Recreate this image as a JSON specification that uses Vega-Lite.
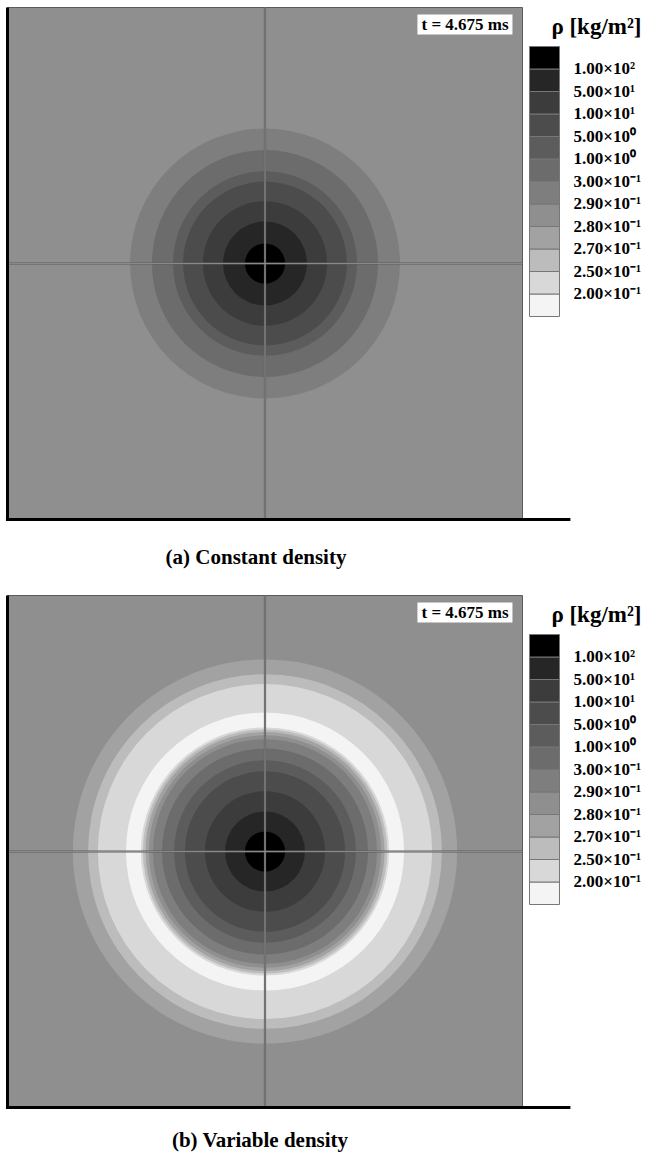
{
  "$schema": "https://vega.github.io/schema/vega-lite/v6.json",
  "background": "white",
  "padding": {"left": 3.5, "top": 5.5, "right": 0, "bottom": 0},
  "config": {"view": {"stroke": null}},
  "datasets": {
    "one": [{}],
    "rings_a": [
      {"r": 0.524, "band": 5},
      {"r": 0.439, "band": 6},
      {"r": 0.357, "band": 7},
      {"r": 0.318, "band": 8},
      {"r": 0.241, "band": 9},
      {"r": 0.163, "band": 10},
      {"r": 0.078, "band": 11}
    ],
    "rings_b": [
      {"r": 0.746, "band": 3},
      {"r": 0.687, "band": 2},
      {"r": 0.649, "band": 1},
      {"r": 0.540, "band": 0},
      {"r": 0.482, "band": 1},
      {"r": 0.474, "band": 2},
      {"r": 0.464, "band": 3},
      {"r": 0.451, "band": 4},
      {"r": 0.435, "band": 5},
      {"r": 0.400, "band": 6},
      {"r": 0.353, "band": 7},
      {"r": 0.311, "band": 8},
      {"r": 0.233, "band": 9},
      {"r": 0.155, "band": 10},
      {"r": 0.078, "band": 11}
    ]
  },
  "resolve": {"scale": {"color": "independent"}, "legend": {"color": "independent"}},
  "spacing": 25,
  "vconcat": [
    {
      "width": 515, "height": 512,
      "title": {"text": "(a) Constant density", "orient": "bottom", "frame": "group", "anchor": "middle", "dx": -9, "offset": 26, "font": "Liberation Serif", "fontSize": 21, "fontWeight": "bold", "color": "black"},
      "layer": [
        {"data": {"name": "one"}, "mark": {"type": "rect", "fill": "#8f8f8f", "stroke": "#5a5a5a", "strokeWidth": 1},
         "encoding": {
           "x": {"datum": -1, "type": "quantitative", "scale": {"domain": [-1, 1], "nice": false, "zero": false}, "axis": null},
           "x2": {"datum": 1},
           "y": {"datum": -1, "type": "quantitative", "scale": {"domain": [-1, 1], "nice": false, "zero": false}, "axis": null},
           "y2": {"datum": 1}}},
        {"data": {"name": "rings_a"}, "mark": {"type": "point", "shape": "circle", "filled": true, "opacity": 1, "strokeWidth": 0},
         "encoding": {
           "x": {"datum": 0, "type": "quantitative"},
           "y": {"datum": 0, "type": "quantitative"},
           "size": {"field": "r", "type": "quantitative", "scale": {"type": "pow", "exponent": 2, "domain": [0, 1], "range": [0, 265225]}, "legend": null},
           "order": {"field": "r", "sort": "descending"},
           "color": {"field": "band", "type": "quantitative",
             "scale": {"type": "threshold", "domain": [0.5, 1.5, 2.5, 3.5, 4.5, 5.5, 6.5, 7.5, 8.5, 9.5, 10.5],
               "range": ["#f4f4f4", "#d8d8d8", "#bcbcbc", "#a2a2a2", "#8f8f8f", "#7e7e7e", "#6c6c6c", "#5c5c5c", "#4c4c4c", "#3c3c3c", "#262626", "#000000"]},
             "legend": {"title": "ρ [kg/m²]", "type": "gradient", "orient": "right", "direction": "vertical", "offset": -1, "padding": 8,
               "titleFont": "Liberation Serif", "titleFontSize": 23, "titleFontWeight": "bold", "titleColor": "black", "titleAnchor": "end", "titlePadding": 8,
               "gradientLength": 270, "gradientThickness": 30, "gradientStrokeColor": "#777777", "gradientStrokeWidth": 1,
               "labelFont": "Liberation Serif", "labelFontSize": 17, "labelFontWeight": "bold", "labelColor": "black", "labelOffset": 14, "labelLimit": 200, "labelOverlap": false,
               "labelExpr": "['2.00×10⁻¹','2.50×10⁻¹','2.70×10⁻¹','2.80×10⁻¹','2.90×10⁻¹','3.00×10⁻¹','1.00×10⁰','5.00×10⁰','1.00×10¹','5.00×10¹','1.00×10²'][floor(datum.value)]"}}}},
        {"data": {"name": "one"}, "mark": {"type": "rule", "stroke": "#5c5c5c", "strokeWidth": 2.2},
         "encoding": {"x": {"datum": -1}, "x2": {"datum": 1}, "y": {"datum": 0}}},
        {"data": {"name": "one"}, "mark": {"type": "rule", "stroke": "#5c5c5c", "strokeWidth": 2.2},
         "encoding": {"x": {"datum": 0}, "y": {"datum": -1}, "y2": {"datum": 1}}},
        {"data": {"name": "one"}, "mark": {"type": "rule", "stroke": "#9c9c9c", "strokeWidth": 0.7},
         "encoding": {"x": {"datum": -1}, "x2": {"datum": 1}, "y": {"datum": 0}}},
        {"data": {"name": "one"}, "mark": {"type": "rule", "stroke": "#9c9c9c", "strokeWidth": 0.7},
         "encoding": {"x": {"datum": 0}, "y": {"datum": -1}, "y2": {"datum": 1}}},
        {"data": {"name": "one"}, "mark": {"type": "rule", "stroke": "black", "strokeWidth": 3},
         "encoding": {"x": {"datum": -1}, "y": {"datum": -1}, "y2": {"datum": 1}}},
        {"data": {"name": "one"}, "mark": {"type": "rule", "stroke": "black", "strokeWidth": 3},
         "encoding": {"x": {"datum": -1.006}, "x2": {"datum": 1.186}, "y": {"datum": -1}}},
        {"data": {"name": "one"}, "mark": {"type": "rect", "fill": "white"},
         "encoding": {"x": {"datum": 0.592}, "x2": {"datum": 0.961}, "y": {"datum": 0.895}, "y2": {"datum": 0.973}}},
        {"data": {"name": "one"}, "mark": {"type": "text", "text": "t = 4.675 ms", "font": "Liberation Serif", "fontSize": 17, "fontWeight": "bold", "color": "black", "align": "center", "baseline": "middle"},
         "encoding": {"x": {"datum": 0.777}, "y": {"datum": 0.932}}}
      ]
    },
    {
      "width": 515, "height": 512,
      "title": {"text": "(b) Variable density", "orient": "bottom", "frame": "group", "anchor": "middle", "dx": -5, "offset": 21, "font": "Liberation Serif", "fontSize": 21, "fontWeight": "bold", "color": "black"},
      "layer": [
        {"data": {"name": "one"}, "mark": {"type": "rect", "fill": "#8f8f8f", "stroke": "#5a5a5a", "strokeWidth": 1},
         "encoding": {
           "x": {"datum": -1, "type": "quantitative", "scale": {"domain": [-1, 1], "nice": false, "zero": false}, "axis": null},
           "x2": {"datum": 1},
           "y": {"datum": -1, "type": "quantitative", "scale": {"domain": [-1, 1], "nice": false, "zero": false}, "axis": null},
           "y2": {"datum": 1}}},
        {"data": {"name": "rings_b"}, "mark": {"type": "point", "shape": "circle", "filled": true, "opacity": 1, "strokeWidth": 0},
         "encoding": {
           "x": {"datum": 0, "type": "quantitative"},
           "y": {"datum": 0, "type": "quantitative"},
           "size": {"field": "r", "type": "quantitative", "scale": {"type": "pow", "exponent": 2, "domain": [0, 1], "range": [0, 265225]}, "legend": null},
           "order": {"field": "r", "sort": "descending"},
           "color": {"field": "band", "type": "quantitative",
             "scale": {"type": "threshold", "domain": [0.5, 1.5, 2.5, 3.5, 4.5, 5.5, 6.5, 7.5, 8.5, 9.5, 10.5],
               "range": ["#f4f4f4", "#d8d8d8", "#bcbcbc", "#a2a2a2", "#8f8f8f", "#7e7e7e", "#6c6c6c", "#5c5c5c", "#4c4c4c", "#3c3c3c", "#262626", "#000000"]},
             "legend": {"title": "ρ [kg/m²]", "type": "gradient", "orient": "right", "direction": "vertical", "offset": -1, "padding": 8,
               "titleFont": "Liberation Serif", "titleFontSize": 23, "titleFontWeight": "bold", "titleColor": "black", "titleAnchor": "end", "titlePadding": 8,
               "gradientLength": 270, "gradientThickness": 30, "gradientStrokeColor": "#777777", "gradientStrokeWidth": 1,
               "labelFont": "Liberation Serif", "labelFontSize": 17, "labelFontWeight": "bold", "labelColor": "black", "labelOffset": 14, "labelLimit": 200, "labelOverlap": false,
               "labelExpr": "['2.00×10⁻¹','2.50×10⁻¹','2.70×10⁻¹','2.80×10⁻¹','2.90×10⁻¹','3.00×10⁻¹','1.00×10⁰','5.00×10⁰','1.00×10¹','5.00×10¹','1.00×10²'][floor(datum.value)]"}}}},
        {"data": {"name": "one"}, "mark": {"type": "rule", "stroke": "#5c5c5c", "strokeWidth": 2.2},
         "encoding": {"x": {"datum": -1}, "x2": {"datum": 1}, "y": {"datum": 0}}},
        {"data": {"name": "one"}, "mark": {"type": "rule", "stroke": "#5c5c5c", "strokeWidth": 2.2},
         "encoding": {"x": {"datum": 0}, "y": {"datum": -1}, "y2": {"datum": 1}}},
        {"data": {"name": "one"}, "mark": {"type": "rule", "stroke": "#9c9c9c", "strokeWidth": 0.7},
         "encoding": {"x": {"datum": -1}, "x2": {"datum": 1}, "y": {"datum": 0}}},
        {"data": {"name": "one"}, "mark": {"type": "rule", "stroke": "#9c9c9c", "strokeWidth": 0.7},
         "encoding": {"x": {"datum": 0}, "y": {"datum": -1}, "y2": {"datum": 1}}},
        {"data": {"name": "one"}, "mark": {"type": "rule", "stroke": "black", "strokeWidth": 3},
         "encoding": {"x": {"datum": -1}, "y": {"datum": -1}, "y2": {"datum": 1}}},
        {"data": {"name": "one"}, "mark": {"type": "rule", "stroke": "black", "strokeWidth": 3},
         "encoding": {"x": {"datum": -1.006}, "x2": {"datum": 1.186}, "y": {"datum": -1}}},
        {"data": {"name": "one"}, "mark": {"type": "rect", "fill": "white"},
         "encoding": {"x": {"datum": 0.592}, "x2": {"datum": 0.961}, "y": {"datum": 0.895}, "y2": {"datum": 0.973}}},
        {"data": {"name": "one"}, "mark": {"type": "text", "text": "t = 4.675 ms", "font": "Liberation Serif", "fontSize": 17, "fontWeight": "bold", "color": "black", "align": "center", "baseline": "middle"},
         "encoding": {"x": {"datum": 0.777}, "y": {"datum": 0.932}}}
      ]
    }
  ]
}
